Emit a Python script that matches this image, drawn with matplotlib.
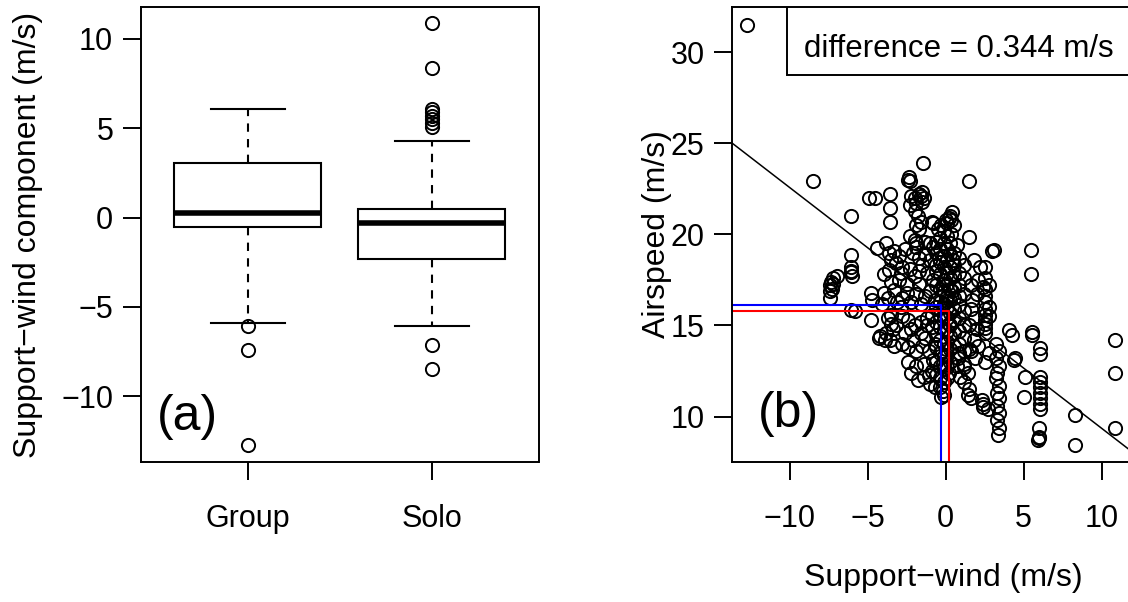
import matplotlib
matplotlib.use("Agg")
import matplotlib.pyplot as plt
from matplotlib.patches import Rectangle

plt.rcParams["font.family"] = ["Liberation Sans", "DejaVu Sans"]

# ---- panel (a): support-wind component by flight type ----
GROUPS = ["Group", "Solo"]
MEDIANS = [0.24, -0.28]
Q1 = [-0.54, -2.32]
Q3 = [3.03, 0.49]
WHISK_LO = [-5.9, -6.1]
WHISK_HI = [6.1, 4.27]
FLIERS = [
    [-6.08, -7.42, -12.75],
    [10.88, 8.35, 6.1, 5.9, 5.7, 5.5, 5.3, 5.05, -7.13, -8.5],
]

# ---- panel (b): airspeed vs support-wind, (wind, airspeed) ----
PTS_OUTER = [
    (-12.72, 31.5), (-8.49, 22.93), (-6.10, 20.98), (-4.93, 21.98), (-4.55, 21.98),
    (-3.59, 22.2), (-3.59, 21.43), (-3.59, 20.65), (-2.37, 23.17), (-2.30, 22.90),
    (-2.42, 23.0), (-1.45, 23.9), (1.47, 22.93), (1.47, 19.85), (3.07, 19.15),
    (3.00, 19.10), (5.45, 19.15), (5.45, 17.85), (8.30, 10.10), (8.30, 8.44),
    (10.86, 14.2), (10.86, 12.38), (10.86, 9.36),
]
PTS_UPPER = [
    (-2.2, 22.1), (-2.0, 22.0), (-1.7, 22.2), (-1.5, 22.3), (-1.4, 22.0), (-1.5, 21.8),
    (-2.3, 21.6), (-1.9, 21.7), (-1.6, 22.1), (-2.0, 21.3), (-1.8, 21.0), (-1.6, 20.7),
    (-1.7, 20.3), (-1.9, 20.5), (-0.9, 20.7), (-0.8, 20.6), (0.0, 20.8), (0.2, 20.9),
    (0.35, 20.8), (0.4, 21.2), (0.5, 20.5), (0.35, 20.0), (0.1, 20.6), (0.3, 21.0),
]
PTS_LEFT = [
    (-7.4, 16.5), (-7.4, 16.9), (-7.45, 17.2), (-7.35, 17.4), (-7.25, 17.6), (-7.0, 17.7),
    (-7.2, 17.3), (-7.3, 17.0), (-6.1, 18.85), (-6.05, 18.2), (-6.05, 17.95), (-6.0, 17.7),
    (-6.1, 18.0), (-6.05, 15.85), (-5.85, 15.8), (-4.8, 16.8), (-4.7, 16.4), (-4.8, 15.3),
    (-4.3, 14.3), (-4.4, 19.24), (-3.86, 19.5), (-3.65, 18.96), (-3.54, 18.6), (-3.0, 18.8),
    (-3.97, 17.8), (-3.65, 18.05), (-3.3, 19.1), (-3.2, 18.4), (-2.8, 18.2), (-3.0, 17.5),
    (-3.5, 17.4), (-3.97, 16.77), (-3.33, 16.95), (-3.1, 16.3), (-4.1, 16.2), (-3.7, 16.5),
    (-3.7, 15.4), (-3.5, 15.1), (-3.4, 14.8), (-3.8, 14.6), (-3.6, 14.2), (-3.3, 13.9),
    (-3.5, 15.6), (-3.2, 15.0), (-4.2, 14.4), (-3.9, 14.2),
]
PTS_MID = [
    (-2.3, 19.9), (-2.0, 19.7), (-1.9, 19.3), (-2.1, 19.0), (-1.9, 19.5), (-1.7, 18.7),
    (-1.3, 19.6), (-1.0, 19.5), (-0.8, 19.3), (-0.6, 19.6), (-0.5, 20.3), (-0.3, 20.5),
    (-2.9, 17.9), (-2.3, 18.1), (-2.5, 17.3), (-2.0, 17.7), (-1.7, 17.3), (-1.2, 17.9),
    (-0.8, 17.5), (-0.6, 18.3), (-1.5, 18.3), (-1.0, 18.6), (-2.8, 16.5), (-2.5, 16.8),
    (-2.2, 16.3), (-1.9, 16.7), (-1.6, 16.2), (-1.3, 16.6), (-1.0, 16.9), (-0.7, 16.4),
    (-2.9, 16.0), (-2.8, 15.5), (-2.4, 15.3), (-2.0, 15.0), (-1.6, 15.2), (-1.2, 15.4),
    (-0.9, 14.9), (-2.6, 14.6), (-2.2, 14.8), (-2.8, 14.0), (-2.4, 13.8), (-1.9, 13.6),
    (-1.5, 13.9), (-1.1, 13.6), (-0.7, 14.0), (-2.4, 13.0), (-1.9, 12.8), (-1.4, 12.9),
    (-0.8, 13.1), (-2.2, 12.4), (-1.8, 12.0), (-1.4, 12.2), (-1.0, 11.8), (-0.7, 11.6),
    (-0.2, 11.4), (-0.3, 11.1),
    (-1.2, 15.0), (-0.9, 15.6), (-1.3, 14.3), (-0.9, 12.5), (-1.6, 14.6), (-2.1, 14.2),
    (-1.1, 12.3), (-1.7, 18.0), (-1.3, 18.9), (-2.6, 19.2),
]
PTS_CORE = [
    (-0.6, 19.0), (-0.6, 18.0), (-0.6, 17.2), (-0.6, 16.0), (-0.6, 15.2), (-0.6, 14.5),
    (-0.6, 13.8), (-0.6, 13.0), (-0.6, 12.3),
    (-0.35, 19.8), (-0.35, 19.2), (-0.35, 18.5), (-0.35, 17.8), (-0.35, 17.0), (-0.35, 16.3),
    (-0.35, 15.6), (-0.35, 14.9), (-0.35, 14.2), (-0.35, 13.5), (-0.35, 12.8), (-0.35, 12.1),
    (-0.35, 11.6),
    (-0.1, 20.2), (-0.1, 19.5), (-0.1, 18.8), (-0.1, 18.2), (-0.1, 17.5), (-0.1, 16.9),
    (-0.1, 16.2), (-0.1, 15.5), (-0.1, 14.8), (-0.1, 14.0), (-0.1, 13.3), (-0.1, 12.6),
    (-0.1, 11.9), (-0.1, 11.2),
    (0.1, 19.9), (0.1, 19.2), (0.1, 18.6), (0.1, 17.9), (0.1, 17.3), (0.1, 16.6),
    (0.1, 16.0), (0.1, 15.4), (0.1, 14.7), (0.1, 14.1), (0.1, 13.4), (0.1, 12.7), (0.1, 12.1),
    (0.3, 19.5), (0.3, 18.9), (0.3, 18.2), (0.3, 17.6), (0.3, 17.0), (0.3, 16.4),
    (0.3, 15.7), (0.3, 15.0), (0.3, 14.4), (0.3, 13.7), (0.3, 13.0),
    (0.55, 19.0), (0.55, 18.3), (0.55, 17.7), (0.55, 17.1), (0.55, 16.5), (0.55, 15.9),
    (0.55, 15.3), (0.55, 14.6), (0.55, 13.9),
    (0.85, 18.7), (0.85, 17.9), (0.85, 17.2), (0.85, 16.6), (0.85, 16.1), (0.85, 15.4),
    (0.85, 14.7), (0.85, 14.0), (0.85, 13.5),
    (1.15, 18.3), (1.15, 17.6), (1.15, 16.7), (1.15, 15.8), (1.15, 15.0), (1.15, 14.3),
    (1.15, 13.6), (1.15, 12.9),
    (-0.45, 18.7), (-0.2, 17.3), (0.0, 16.5), (0.2, 15.1), (0.4, 16.9), (0.0, 13.7),
    (0.2, 12.4), (-0.2, 12.9), (0.45, 18.6), (0.7, 19.4),
]
PTS_RIGHT = [
    (1.8, 18.6), (2.2, 18.2), (2.1, 17.5), (1.6, 17.2), (2.4, 17.1), (2.0, 16.7),
    (1.7, 16.4), (1.6, 15.9), (1.9, 15.4), (1.5, 15.0), (2.0, 14.8),
    (2.55, 18.2), (2.55, 17.6), (2.55, 17.0), (2.55, 16.6), (2.55, 16.3), (2.55, 15.9),
    (2.55, 15.6), (2.55, 15.3), (2.55, 15.1), (2.55, 14.85), (2.55, 14.6),
    (2.75, 17.2), (2.75, 16.0), (2.75, 15.5),
    (1.5, 13.7), (1.6, 13.6), (1.2, 12.7), (1.4, 12.4), (1.2, 11.9), (1.5, 11.5),
    (1.4, 11.2), (1.6, 11.0), (2.3, 10.9), (2.4, 10.7), (2.7, 10.4), (2.4, 10.5),
    (0.7, 12.8), (0.9, 12.2), (0.8, 13.2), (1.8, 14.2), (2.1, 13.9), (1.9, 13.2),
    (2.54, 13.0), (2.77, 13.5),
    (3.2, 14.0), (3.4, 13.6), (3.2, 13.2), (3.4, 12.8), (3.3, 12.4), (3.2, 12.1),
    (3.4, 11.7), (3.3, 11.3), (3.4, 11.0), (3.3, 10.6), (3.4, 10.2), (3.3, 9.8),
    (3.4, 9.4), (3.35, 9.0),
    (4.05, 14.75), (4.25, 14.45), (4.45, 13.2), (4.4, 13.1), (5.1, 12.2), (5.0, 11.1),
    (5.55, 14.65), (5.55, 14.45),
    (6.06, 13.75), (6.06, 13.45), (6.06, 12.2), (6.06, 11.9), (6.06, 11.6), (6.06, 11.3),
    (6.06, 11.0), (6.06, 10.7), (6.06, 10.4), (6.0, 9.4), (6.0, 8.9), (5.95, 8.7), (6.0, 8.8),
]

INTERCEPT = 15.96  # fitted airspeed at zero support-wind
SLOPE = -0.66
DIFFERENCE = 0.344
MEDIAN_COLORS = ["red", "blue"]  # Group, Solo

LW = 1.4
TICK_SIZE = 22
LABEL_SIZE = 23


def style_axes(ax):
    for sp in ax.spines.values():
        sp.set_linewidth(LW)
    ax.tick_params(direction="out", length=13, width=LW, labelsize=TICK_SIZE)
    ax.tick_params(axis="y", pad=7)
    ax.tick_params(axis="x", pad=17)


fig = plt.figure(figsize=(11.28, 6.02), dpi=100)

# panel (a)
ax1 = fig.add_axes([141 / 1128, 140 / 602, 397.5 / 1128, 455 / 602])
stats = []
for i, name in enumerate(GROUPS):
    stats.append(dict(label=name, med=MEDIANS[i], q1=Q1[i], q3=Q3[i],
                      whislo=WHISK_LO[i], whishi=WHISK_HI[i], fliers=FLIERS[i]))
ax1.bxp(stats, positions=[1, 2], widths=0.8, capwidths=0.4, patch_artist=True,
        boxprops=dict(facecolor="white", edgecolor="black", linewidth=1.5),
        medianprops=dict(color="black", linewidth=4, solid_capstyle="butt"),
        whiskerprops=dict(color="black", linewidth=1.5, linestyle=(0, (4, 3.5))),
        capprops=dict(color="black", linewidth=1.5),
        flierprops=dict(marker="o", markerfacecolor="none", markeredgecolor="black",
                        markersize=9.5, markeredgewidth=LW))
ax1.set_xlim(0.42, 2.58)
ax1.set_ylim(-13.69, 11.79)
ax1.set_yticks([-10, -5, 0, 5, 10])
ax1.set_xticks([1, 2], GROUPS)
style_axes(ax1)
ax1.set_ylabel("Support\u2212wind component (m/s)", fontsize=LABEL_SIZE)
ax1.yaxis.set_label_coords(-0.2465, 0.5)
ax1.text(0.04, 0.071, "(a)", transform=ax1.transAxes, fontsize=36, va="baseline")

# panel (b)
ax2 = fig.add_axes([732.3 / 1128, 140 / 602, 397.2 / 1128, 455 / 602])
points = PTS_OUTER + PTS_UPPER + PTS_LEFT + PTS_MID + PTS_CORE + PTS_RIGHT
wind = [p[0] for p in points]
airspeed = [p[1] for p in points]
ax2.plot(wind, airspeed, "o", mfc="none", mec="black", ms=9.5, mew=LW)
xmin, xmax = -13.69, 11.79
ymin, ymax = 7.51, 32.47
ax2.set_xlim(xmin, xmax)
ax2.set_ylim(ymin, ymax)
ax2.axline((0, INTERCEPT), slope=SLOPE, color="black", lw=1.1)
for med, col in zip(MEDIANS, MEDIAN_COLORS):
    yhat = INTERCEPT + SLOPE * med
    ax2.plot([xmin, med, med], [yhat, yhat, ymin], color=col, lw=1.5,
             solid_joinstyle="round")
ax2.set_xticks([-10, -5, 0, 5, 10])
ax2.set_yticks([10, 15, 20, 25, 30])
style_axes(ax2)
ax2.set_xlabel("Support\u2212wind (m/s)", fontsize=LABEL_SIZE)
ax2.xaxis.set_label_coords(0.531, -0.222)
ax2.set_ylabel("Airspeed (m/s)", fontsize=LABEL_SIZE)
ax2.yaxis.set_label_coords(-0.152, 0.5)
ax2.add_patch(Rectangle((0.137, 0.85), 0.863, 0.15, transform=ax2.transAxes,
                        facecolor="white", edgecolor="black", lw=LW, zorder=5))
ax2.text(0.571, 0.890, f"difference = {DIFFERENCE} m/s", transform=ax2.transAxes,
         fontsize=22.5, ha="center", va="baseline", zorder=6)
ax2.text(0.065, 0.076, "(b)", transform=ax2.transAxes, fontsize=36, va="baseline")

fig.savefig("out.png", dpi=100)
